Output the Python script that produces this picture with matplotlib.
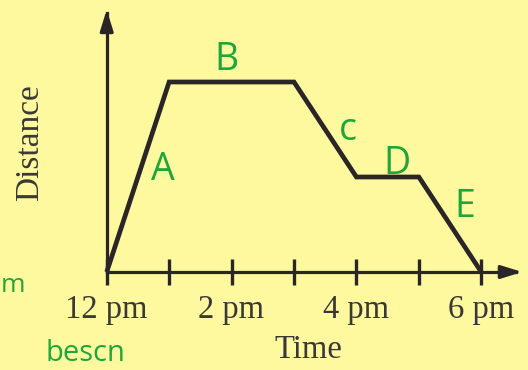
import matplotlib
matplotlib.use("Agg")
import matplotlib.pyplot as plt

# Journey: distance from home over the afternoon
hours = [0, 1, 3, 4, 5, 6]
distance = [0, 4, 4, 2, 2, 0]

tick_hours = [0, 1, 2, 3, 4, 5, 6]
label_hours = [0, 2, 4, 6]
label_texts = ["12 pm", "2 pm", "4 pm", "6 pm"]

# Hand-written stage letters: (letter, hour, distance)
stage_letters = ["A", "B", "c", "D", "E"]
stage_x = [0.90, 1.91, 3.87, 4.65, 5.74]
stage_y = [2.15, 4.46, 2.99, 2.28, 1.37]

BG = "#FEF99E"
INK = "#2a2627"
TEXT = "#3a3836"
GREEN = "#1fa63a"

W, H, DPI = 528, 370, 100
fig = plt.figure(figsize=(W / DPI, H / DPI), dpi=DPI, facecolor=BG)
ax = fig.add_axes([0, 0, 1, 1], facecolor=BG)

# scale: 62.43 px per hour, 47.5 px per distance unit, origin at (106.7, 272) px
ox, oy, sx, sy = 106.7, 272.0, 62.43, 47.5
ax.set_xlim(-ox / sx, (W - ox) / sx)
ax.set_ylim((oy - H) / sy, oy / sy)

for side in ("top", "right"):
    ax.spines[side].set_visible(False)
ax.spines["left"].set_position(("data", 0))
ax.spines["bottom"].set_position(("data", 0))
ax.spines["left"].set_bounds(0, 5.45)
ax.spines["bottom"].set_bounds(0, 6.55)
for side in ("left", "bottom"):
    ax.spines[side].set_linewidth(2.3)
    ax.spines[side].set_color(INK)

# axis arrowheads
ax.annotate("", xy=(6.70, 0), xytext=(6.40, 0),
            arrowprops=dict(arrowstyle="-|>,head_length=0.9,head_width=0.28",
                            color=INK, lw=2.3, mutation_scale=14))
ax.annotate("", xy=(0, 5.58), xytext=(0, 5.1),
            arrowprops=dict(arrowstyle="-|>,head_length=0.9,head_width=0.28",
                            color=INK, lw=2.3, mutation_scale=14))

ax.set_yticks([])
ax.set_xticks(tick_hours)
ax.set_xticklabels([label_texts[label_hours.index(h)] if h in label_hours else ""
                    for h in tick_hours])
ax.tick_params(axis="x", direction="inout", length=19, width=2.4, color=INK,
               pad=7, labelsize=23.5, labelcolor=TEXT)
for lab in ax.get_xticklabels():
    lab.set_fontfamily("Liberation Serif")

ax.plot(hours, distance, color=INK, lw=3.4, solid_joinstyle="miter",
        solid_capstyle="butt", clip_on=False, zorder=3)

fig.text(308 / W, 1 - 350 / H, "Time", ha="center", va="center",
         fontsize=23.5, family="Liberation Serif", color=TEXT)
fig.text(30 / W, 1 - 143 / H, "Distance", ha="center", va="center",
         rotation=90, fontsize=24, family="Liberation Serif", color=TEXT)

for s, x, y in zip(stage_letters, stage_x, stage_y):
    ax.text(x, y, s, ha="center", va="center", fontsize=27,
            family="Open Sans", color=GREEN)

# margin notes in green ink
fig.text(1 / W, 1 - 286 / H, "m", ha="left", va="center", fontsize=19,
         family="Open Sans", color=GREEN)
fig.text(46 / W, 1 - 368 / H, "bescn", ha="left", va="bottom", fontsize=21,
         family="Open Sans", color=GREEN)

fig.savefig("out.png", dpi=DPI, facecolor=BG)
